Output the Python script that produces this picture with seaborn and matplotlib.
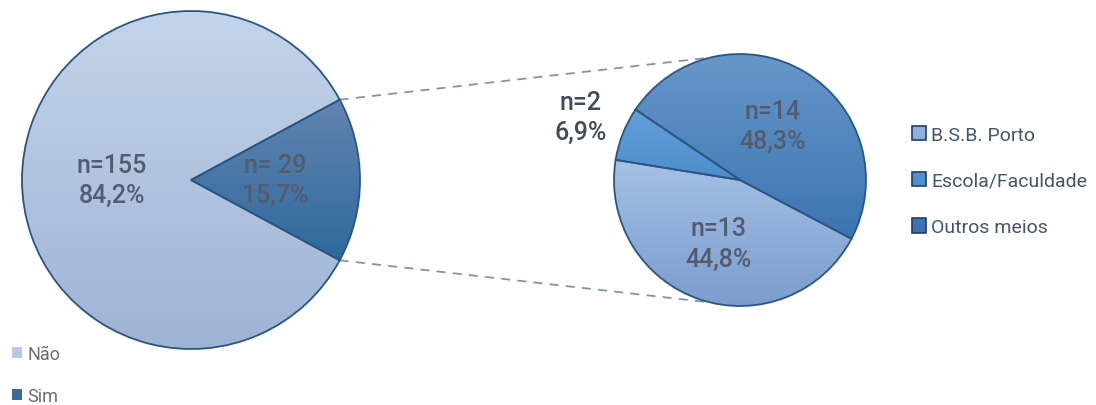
import numpy as np
import matplotlib
matplotlib.use("Agg")
import matplotlib.pyplot as plt
import seaborn as sns
from matplotlib.colors import LinearSegmentedColormap
from matplotlib.patches import Patch

# ---- data ----
main_labels = ["Não", "Sim"]
main_counts = [155, 29]
main_pct = [84.2, 15.7]
main_count_text = ["n=155", "n= 29"]

sub_labels = ["B.S.B. Porto", "Escola / Faculdade", "Outros meios"]
sub_counts = [13, 2, 14]
sub_pct = [44.8, 6.9, 48.3]

# ---- style ----
sns.set_theme(style="white")
plt.rcParams["font.family"] = ["Roboto", "DejaVu Sans"]

main_grad = {"Não": ("#c4d4ea", "#9eb3d5"), "Sim": ("#6384b0", "#2d699d")}
sub_grad = {"B.S.B. Porto": ("#a6c1e7", "#7b9ccd"),
            "Escola / Faculdade": ("#62a0d8", "#4d8dcc"),
            "Outros meios": ("#6896c9", "#3b74b2")}
edge_col = "#2a5682"
text_col = "#535c6e"

fig = plt.figure(figsize=(10.96, 4.06), dpi=100)
ax = fig.add_axes([0, 0, 1, 1])

H = 406
c1, r1 = (191, H - 181), 169
c2, r2 = (740, H - 181), 126


def grad_fill(wedges, names, grads):
    for w, n in zip(wedges, names):
        top, bot = grads[n]
        cmap = LinearSegmentedColormap.from_list(n, [top, bot])
        bb = w.get_path().get_extents()
        ax.imshow(np.linspace(0, 1, 256).reshape(-1, 1), cmap=cmap,
                  extent=(bb.x0, bb.x1, bb.y0, bb.y1), origin="upper",
                  aspect="auto", zorder=1, clip_path=w, interpolation="bilinear")
        w.set_facecolor("none")
        w.set_zorder(3)


# main pie: order Sim first so it is centred on 0 deg
sim_frac = main_counts[1] / sum(main_counts)
w_main, _ = ax.pie([main_counts[1], main_counts[0]], center=c1, radius=r1,
                   startangle=-sim_frac * 180, counterclock=True,
                   wedgeprops=dict(edgecolor=edge_col, linewidth=1.3))
main_order = ["Sim", "Não"]
grad_fill(w_main, main_order, main_grad)

# sub pie: Outros, Escola, BSB counter-clockwise
sub_order = ["Outros meios", "Escola / Faculdade", "B.S.B. Porto"]
sub_vals = [sub_counts[sub_labels.index(n)] for n in sub_order]
w_sub, _ = ax.pie(sub_vals, center=c2, radius=r2, startangle=-27.8,
                  counterclock=True,
                  wedgeprops=dict(edgecolor=edge_col, linewidth=1.3))
grad_fill(w_sub, sub_order, sub_grad)


def put_label(w, c, r, dist, txt, col):
    mid = np.deg2rad((w.theta1 + w.theta2) / 2)
    x = c[0] + dist * r * np.cos(mid)
    y = c[1] + dist * r * np.sin(mid)
    ax.text(x, y, txt, ha="center", va="center", fontsize=18,
            color=col, fontweight="medium", linespacing=1.32, zorder=5)


for w, n in zip(w_main, main_order):
    i = main_labels.index(n)
    put_label(w, c1, r1, 0.47 if n == "Não" else 0.5,
              f"{main_count_text[i]}\n{main_pct[i]:.1f}".replace(".", ",") + "%",
              text_col)

for w, n in zip(w_sub, sub_order):
    i = sub_labels.index(n)
    d = {"Outros meios": 0.5, "Escola / Faculdade": 1.36, "B.S.B. Porto": 0.53}[n]
    col = "#3f4a5d" if n == "Escola / Faculdade" else text_col
    put_label(w, c2, r2, d,
              f"n={sub_counts[i]}\n{sub_pct[i]:.1f}".replace(".", ",") + "%", col)

# connector lines
ws = w_main[0]
for th1, th2 in [(ws.theta2, 103.5), (ws.theta1, -103.5)]:
    a1, a2 = np.deg2rad(th1), np.deg2rad(th2)
    ax.plot([c1[0] + r1 * np.cos(a1), c2[0] + r2 * np.cos(a2)],
            [c1[1] + r1 * np.sin(a1), c2[1] + r2 * np.sin(a2)],
            ls=(0, (5, 4)), color="#8193ae", lw=1.3, zorder=0)

# legends
sub_leg_cols = {"B.S.B. Porto": "#8fb0dc", "Escola / Faculdade": "#4f90d0",
                "Outros meios": "#3d72b0"}
h_sub = [Patch(facecolor=sub_leg_cols[n], edgecolor="#1f3f66", linewidth=1.2)
         for n in sub_labels]
leg2 = ax.legend(h_sub, ["B.S.B. Porto", "Escola/Faculdade", "Outros meios"],
                 loc="center left", bbox_to_anchor=(902 / 1096, 1 - 182 / H),
                 frameon=False, fontsize=14, handlelength=0.75, handleheight=0.75,
                 handletextpad=0.25, labelspacing=1.45, borderpad=0,
                 labelcolor="#44546a")
ax.add_artist(leg2)

main_leg_cols = {"Não": "#b8c9e3", "Sim": "#3b6c9c"}
h_main = [Patch(facecolor=main_leg_cols[n], edgecolor="none") for n in main_labels]
ax.legend(h_main, main_labels, loc="upper left",
          bbox_to_anchor=(3 / 1096, 1 - 337 / H), frameon=False, fontsize=13,
          handlelength=0.55, handleheight=0.55, handletextpad=0.3,
          labelspacing=1.3, borderpad=0, labelcolor="#6d6d6d")

ax.set_xlim(0, 1096)
ax.set_ylim(0, H)
ax.set_aspect("equal")
ax.axis("off")

fig.savefig("out.png", dpi=100)
